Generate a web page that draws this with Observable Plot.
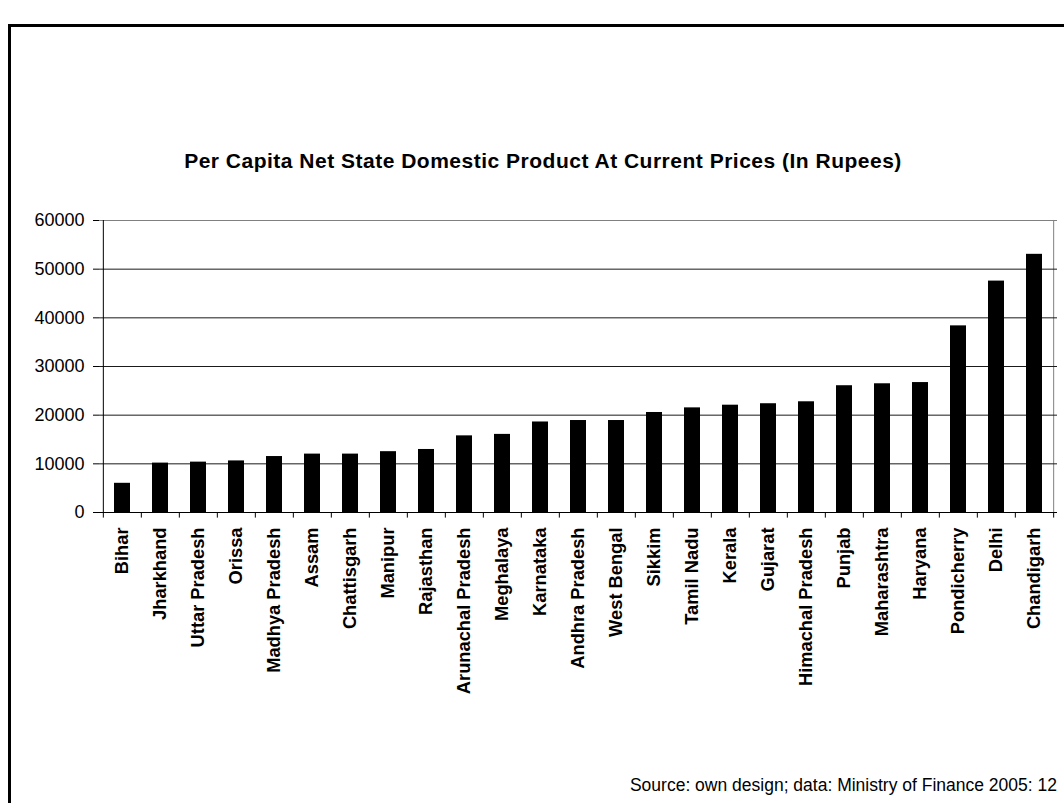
<!DOCTYPE html>
<html>
<head>
<meta charset="utf-8">
<script src="https://cdn.jsdelivr.net/npm/d3@7"></script>
<script src="https://cdn.jsdelivr.net/npm/@observablehq/plot@0.6"></script>
<style>
  html, body { margin: 0; padding: 0; background: #fff; }
  body { width: 1064px; height: 803px; position: relative; overflow: hidden; font-family: "Liberation Sans", Arial, sans-serif; }
  #frame { position: absolute; left: 8px; top: 24px; width: 1080px; height: 800px; border: 3px solid #000; box-sizing: border-box; }
  #title { position: absolute; left: 0; width: 1086px; top: 150px; text-align: center; font-weight: bold; font-size: 21px; letter-spacing: 0.5px; color: #000; line-height: 22px; white-space: nowrap; }
  #chart { position: absolute; left: 0; top: 200px; }
  #caption { position: absolute; right: 7px; top: 774px; font-size: 17.5px; color: #000; line-height: 22px; white-space: nowrap; }
</style>
</head>
<body>
<div id="frame"></div>
<div id="title">Per Capita Net State Domestic Product At Current Prices (In Rupees)</div>
<div id="chart"></div>
<div id="caption">Source: own design; data: Ministry of Finance 2005: 12</div>
<script>
const states = ["Bihar", "Jharkhand", "Uttar Pradesh", "Orissa", "Madhya Pradesh", "Assam", "Chattisgarh", "Manipur", "Rajasthan", "Arunachal Pradesh", "Meghalaya", "Karnataka", "Andhra Pradesh", "West Bengal", "Sikkim", "Tamil Nadu", "Kerala", "Gujarat", "Himachal Pradesh", "Punjab", "Maharashtra", "Haryana", "Pondicherry", "Delhi", "Chandigarh"];
const values = [6000, 10150, 10350, 10600, 11500, 12000, 12000, 12500, 12950, 15750, 16050, 18600, 18900, 18900, 20550, 21500, 22050, 22350, 22750, 26050, 26450, 26700, 38350, 47550, 53050];
const yTicks = [0, 10000, 20000, 30000, 40000, 50000, 60000];

const data = states.map((s, i) => ({state: s, value: values[i]}));

const W = 1064, ML = 99, MR = 7, MT = 20, MB = 175, PH = 292;
const step = (W - ML - MR) / states.length;
const font = "'Liberation Sans', Arial, sans-serif";
const yMax = yTicks[yTicks.length - 1];

const chart = Plot.plot({
  width: W,
  height: MT + PH + MB,
  marginLeft: ML,
  marginRight: MR,
  marginTop: MT,
  marginBottom: MB,
  style: {fontFamily: font, background: "transparent", color: "#000", overflow: "visible"},
  x: {domain: states, paddingInner: 0.58, paddingOuter: 0.29, axis: null},
  y: {domain: [0, yMax], axis: null},
  marks: [
    Plot.ruleY([yMax], {stroke: "#808080"}),
    Plot.ruleX([states[states.length - 1]], {y1: 0, y2: yMax, dx: step / 2, stroke: "#808080"}),
    Plot.ruleY(yTicks.filter(v => v > 0 && v < yMax), {stroke: "#1a1a1a", strokeWidth: 1}),
    Plot.barY(data, {x: "state", y: "value", fill: "#000"}),
    Plot.ruleY([0], {stroke: "#000"}),
    Plot.ruleX([states[0]], {y1: 0, y2: yMax, dx: -step / 2, stroke: "#000"}),
    Plot.ruleX(states, {y1: -1150, y2: 0, dx: -step / 2, stroke: "#000"}),
    Plot.ruleX([states[states.length - 1]], {y1: -1150, y2: 0, dx: step / 2, stroke: "#000"}),
    Plot.axisY({ticks: yTicks, tickSize: 6, tickPadding: 9, fontSize: 18, tickFormat: d => String(d), label: null, stroke: "#000"}),
    Plot.axisX({tickSize: 0, tickRotate: -90, tickPadding: 15, fontSize: 18.3, fontWeight: "bold", label: null})
  ]
});
document.getElementById("chart").appendChild(chart);
</script>
</body>
</html>
